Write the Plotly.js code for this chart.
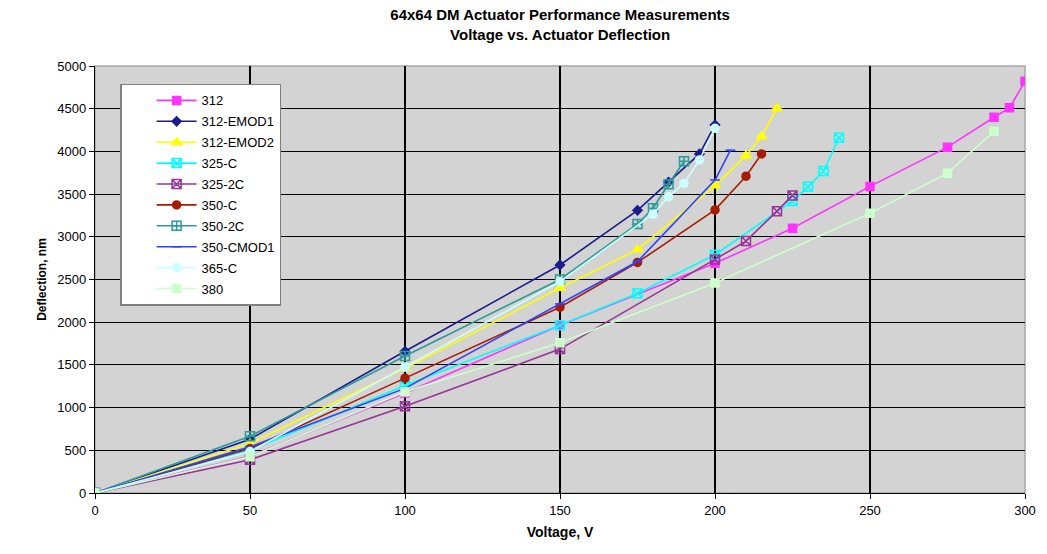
<!DOCTYPE html>
<html>
<head>
<meta charset="utf-8">
<script src="https://cdn.plot.ly/plotly-3.0.1.min.js"></script>
<style>
  html, body { margin: 0; padding: 0; background: #fff; }
  #chart { width: 1047px; height: 554px; }
</style>
</head>
<body>
<div id="chart"></div>
<script>
// voltage (V) and deflection (nm) for each actuator set
var v312 = [0, 50, 100, 150, 200, 225, 250, 275, 290, 295, 300];
var d312 = [0, 430, 1170, 1965, 2690, 3100, 3590, 4050, 4400, 4510, 4820];

var vEmod1 = [0, 50, 100, 150, 175, 185, 195, 200];
var dEmod1 = [0, 630, 1660, 2670, 3310, 3640, 3970, 4310];

var vEmod2 = [0, 50, 100, 150, 175, 200, 210, 215, 220];
var dEmod2 = [0, 580, 1460, 2400, 2850, 3600, 3950, 4175, 4505];

var v325c = [0, 50, 100, 150, 175, 200, 225, 230, 235, 240];
var d325c = [0, 500, 1260, 1965, 2340, 2790, 3420, 3585, 3770, 4160];

var v3252c = [0, 50, 100, 150, 200, 210, 220, 225];
var d3252c = [0, 390, 1015, 1685, 2735, 2950, 3300, 3485];

var v350c = [0, 50, 100, 150, 175, 200, 210, 215];
var d350c = [0, 520, 1345, 2175, 2700, 3315, 3710, 3970];

var v3502c = [0, 50, 100, 150, 175, 180, 185, 190];
var d3502c = [0, 665, 1605, 2500, 3150, 3335, 3615, 3885];

var vCmod1 = [0, 50, 100, 150, 175, 200, 205];
var dCmod1 = [0, 540, 1225, 2215, 2710, 3665, 4015];

var v365c = [0, 50, 100, 150, 180, 185, 190, 195, 200];
var d365c = [0, 485, 1475, 2475, 3265, 3470, 3625, 3900, 4270];

var v380 = [0, 50, 100, 150, 200, 250, 275, 290];
var d380 = [0, 425, 1185, 1760, 2460, 3275, 3745, 4235];

function series(name, x, y, color, symbol, size) {
  return {
    type: 'scatter', mode: 'lines+markers', name: name, x: x, y: y,
    legendgroup: name,
    line: { color: color, width: 1.6 },
    marker: { color: color, symbol: symbol, size: size, line: { color: color, width: 1.5 } }
  };
}

var data = [
  series('312', v312, d312, '#ff33ff', 'square', 8),
  series('312-EMOD1', vEmod1, dEmod1, '#1c1c8c', 'diamond', 7),
  series('312-EMOD2', vEmod2, dEmod2, '#ffff00', 'triangle-up', 9),
  series('325-C', v325c, d325c, '#00ffff', 'square-x-open', 9),
  series('325-2C', v3252c, d3252c, '#993399', 'square-x-open', 9),
  series('350-C', v350c, d350c, '#a61c00', 'circle', 8),
  series('350-2C', v3502c, d3502c, '#2a9a9a', 'square-cross-open', 9),
  series('350-CMOD1', vCmod1, dCmod1, '#3040ff', 'line-ew-open', 7),
  series('365-C', v365c, d365c, '#ccffff', 'circle', 8),
  series('380', v380, d380, '#ccffcc', 'square', 8)
];

var layout = {
  width: 1047, height: 554,
  margin: { l: 95, r: 22, t: 66, b: 61 },
  paper_bgcolor: '#ffffff',
  plot_bgcolor: '#d3d3d3',
  font: { family: 'Liberation Sans, Arial, sans-serif', color: '#000' },
  title: {
    text: '<b>64x64 DM Actuator Performance Measurements</b><br><b>Voltage vs. Actuator Deflection</b>',
    font: { size: 15 }, x: 0.535, xanchor: 'center', y: 0.963, yanchor: 'top'
  },
  xaxis: {
    range: [0, 300], dtick: 50, tick0: 0,
    showgrid: true, gridcolor: '#000', gridwidth: 1.2,
    showline: true, linecolor: '#000', linewidth: 1.2,
    ticks: 'outside', ticklen: 5, tickcolor: '#000',
    zeroline: false, tickfont: { size: 13 },
    title: { text: '<b>Voltage, V</b>', font: { size: 14 }, standoff: 10 }
  },
  yaxis: {
    range: [0, 5000], dtick: 500, tick0: 0,
    showgrid: true, gridcolor: '#000', gridwidth: 1.2,
    showline: true, linecolor: '#000', linewidth: 1.2,
    ticks: 'outside', ticklen: 5, tickcolor: '#000',
    zeroline: false, tickfont: { size: 13 },
    title: { text: '<b>Deflection, nm</b>', font: { size: 12 }, standoff: 8 }
  },
  shapes: [{
    type: 'rect', xref: 'paper', yref: 'paper', x0: 0, x1: 1, y0: 0, y1: 1,
    line: { color: '#a8a8a8', width: 1.5 }, layer: 'below'
  }],
  legend: {
    x: 0.027, y: 0.958, xanchor: 'left', yanchor: 'top',
    bgcolor: '#ffffff', bordercolor: '#808080', borderwidth: 1.5,
    font: { size: 13 }, itemwidth: 40, tracegroupgap: 1,
    traceorder: 'grouped', indentation: 30, entrywidth: 150
  },
  showlegend: true
};

Plotly.newPlot('chart', data, layout, { displayModeBar: false, staticPlot: true });
</script>
</body>
</html>
